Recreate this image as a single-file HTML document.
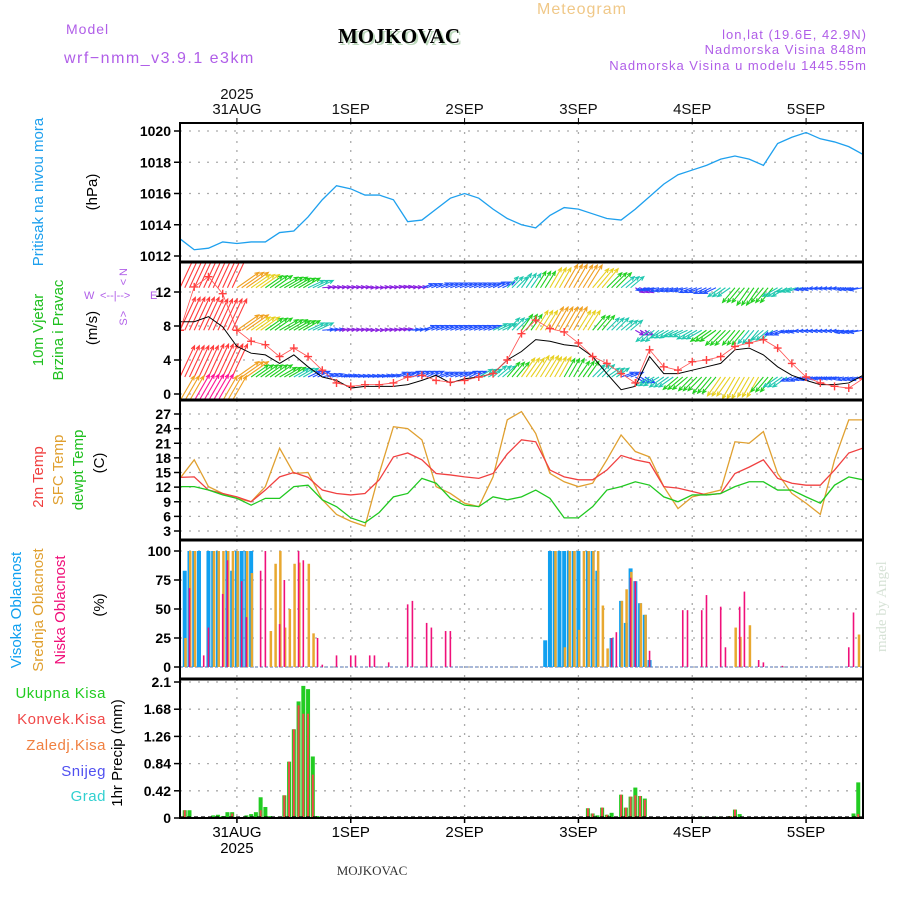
<!DOCTYPE html>
<html><head><meta charset="utf-8"><title>Meteogram MOJKOVAC</title>
<style>
html,body{margin:0;padding:0;background:#fff;}
svg{display:block;font-family:"Liberation Sans",sans-serif;}
</style></head>
<body>
<svg id="chart" xmlns="http://www.w3.org/2000/svg" width="900" height="900" viewBox="0 0 900 900">
<defs>
<clipPath id="clipW"><rect x="180" y="262" width="683" height="138"/></clipPath>
<clipPath id="clipT"><rect x="180" y="400" width="683" height="140"/></clipPath>
</defs>
<text x="582" y="14" font-size="16" fill="#f0c888" text-anchor="middle" letter-spacing="1">Meteogram</text>
<text x="66" y="34" font-size="14" fill="#b05ee8" letter-spacing="1">Model</text>
<text x="64" y="63" font-size="16" fill="#b05ee8" letter-spacing="1.5">wrf−nmm_v3.9.1 e3km</text>
<text x="399" y="43" font-size="21" font-weight="bold" font-family="Liberation Serif,serif" fill="#000" text-anchor="middle" style="text-shadow:2px 2px 0 #bcd8bc">MOJKOVAC</text>
<text x="867" y="39" font-size="13" fill="#b05ee8" text-anchor="end" letter-spacing="1">lon,lat (19.6E, 42.9N)</text>
<text x="867" y="54" font-size="13" fill="#b05ee8" text-anchor="end" letter-spacing="1">Nadmorska Visina 848m</text>
<text x="867" y="70" font-size="13" fill="#b05ee8" text-anchor="end" letter-spacing="1">Nadmorska Visina u modelu 1445.55m</text>
<text x="372" y="875" font-size="13" font-family="Liberation Serif,serif" fill="#333" text-anchor="middle">MOJKOVAC</text>
<text transform="translate(886,652) rotate(-90)" font-size="15" font-family="Liberation Serif,serif" fill="#d6e2d6">made by Angel</text>
<g id="g"></g>
</svg>
<script>
// ---------- data (3-hourly, 49 steps from 30AUG 12Z) ----------
const dayLabels = ["31AUG","1SEP","2SEP","3SEP","4SEP","5SEP"];
const dayHours = [12,36,60,84,108,132];
const pressure = [1013.1,1012.4,1012.5,1012.9,1012.8,1012.9,1012.9,1013.5,1013.6,1014.5,1015.6,1016.5,1016.3,1015.9,1015.9,1015.6,1014.2,1014.3,1015.0,1015.7,1016.0,1015.7,1015.0,1014.4,1014.0,1013.8,1014.6,1015.1,1015.0,1014.7,1014.4,1014.3,1015.0,1015.8,1016.6,1017.2,1017.5,1017.8,1018.2,1018.4,1018.2,1017.8,1019.2,1019.6,1019.9,1019.5,1019.3,1019.0,1018.5];
const windSpeed = [8.5,8.5,9.1,7.9,5.6,4.8,4.6,3.6,4.6,3.2,2.0,1.6,0.7,0.9,0.9,0.9,1.1,1.6,2.2,1.3,1.8,2.0,2.4,4.0,5.0,6.4,6.2,5.8,5.6,4.4,2.4,0.5,0.9,4.4,2.4,2.4,2.8,3.2,3.6,5.2,5.4,4.6,3.2,2.2,1.6,1.1,1.1,1.3,2.2];
const windGust = [7.5,12.6,13.8,11.8,7.5,6.2,5.8,4.4,5.4,4.4,2.8,1.3,0.9,1.1,1.1,1.3,2.0,2.2,1.6,1.4,1.6,2.0,2.4,4.0,7.1,8.7,7.7,7.3,6.0,4.4,3.6,2.4,1.3,5.2,3.2,2.8,3.8,4.0,4.4,5.6,6.0,6.4,5.4,3.6,2.0,1.3,0.9,0.7,1.8];
const rowBase = [12.5,7.5,2.0,-0.8];
const rowSpeed1 = [9,9,8.5,9,6,5,4.5,4.5,4,3.5,1.5,1.5,1.5,1.5,1.5,1.5,1.5,2,2.5,2.5,2.5,2.5,2.5,3,3.5,4,5,6,6,5.5,4.5,3.5,1.5,2.5,2.5,2.5,2.5,2.5,3,4,4.5,4,3.5,3,2,2,2,2,2.5];
const rowSpeed2 = [8.5,8.5,8,8,6,5,4.5,4.5,4,3.5,2,1.5,1.5,1.5,1.5,1.5,2,2.5,2.5,2.5,2.5,2.5,3,3.5,4,5,6,6,5,4,3.5,3,1.5,3.5,3,3,3.5,4,4.5,4,3.5,3,2.5,2,2,2,2,2.5,2.5];
const rowSpeed3 = [8,8,8.5,8.5,6,4.5,4.5,4,3.5,2.5,2,2,2,2,2,2.5,2.5,2.5,2.5,2.5,2.5,3,3.5,4,5,5.5,5,4.5,4,3.5,3,2.5,2,3.5,3.5,4,4,4.5,5,5.5,5,4,3.5,2,2,2,2,2,2];
const rowSpeed4 = [6.5,7,7,6.5,3,3,3,3,3,3,3,3,3,3,3,3,3,3,3,3,3,3,3,3,3,3,3,3,3,3,3,3,3,3,3,3,3,3,3,3,3,3,3,3,3,3,3,3,3];
const rowDir1 = [205,205,205,205,235,235,235,240,240,245,265,265,265,268,265,262,265,250,250,250,250,250,245,225,215,212,210,210,212,220,225,230,300,80,75,75,70,65,55,40,35,40,60,75,80,85,85,80,80];
const rowDir2 = [205,205,205,205,235,235,235,240,240,245,265,265,265,268,265,262,265,250,250,250,250,250,245,225,215,212,210,210,212,220,225,230,300,50,60,65,60,55,45,40,40,50,70,80,85,85,85,80,80];
const rowDir3 = [205,205,205,205,235,235,235,240,240,245,255,260,262,262,260,250,245,245,250,250,245,240,230,220,215,212,210,210,215,225,235,250,300,60,55,50,45,40,35,30,30,40,55,70,75,80,80,75,75];
const rowDir4 = [210,210,210,210,45,45,45,45,45,45,45,45,45,45,45,45,45,45,45,45,45,45,45,45,45,45,45,45,45,45,45,45,45,45,45,45,45,45,45,45,45,45,45,45,45,45,45,45,45];
const temp2m = [14,14.1,11.4,10.7,10.0,9.0,11.4,14.1,15,14,11.4,10.7,10.4,10.7,13.5,18.2,19.0,17.6,14.8,14.5,14.1,13.8,14.8,18.8,21.7,21.3,15.5,14.1,13.5,13.5,15.5,18.5,17.6,17,12.1,11.8,11.1,10.4,10.7,14.8,16.1,17.6,13.8,12.8,12.4,12.4,15.5,19,20];
const tempSfc = [13.8,17.6,12.1,10.7,9.7,9.0,12.1,20,14.8,15,9.4,6.4,5.0,4.0,14.8,24.4,24,21.7,12.1,10.7,8.7,8.0,14.1,25.8,27.5,23,14.8,13.1,12.1,12.8,17.6,22.7,19.3,18.2,12.1,7.6,10.0,10.7,11.4,21.3,21,23.4,14.8,10.7,8.7,6.4,17.6,25.8,25.8];
const tempDew = [12.1,12.1,11.4,10.4,9.7,8.3,9.7,9.7,12.1,12.4,9.4,8.0,5.7,4.7,6.8,10.0,10.7,13.8,12.8,9.7,8.3,8.0,10.0,9.4,10,11.4,9.7,5.7,5.7,8.0,11.4,12.1,13.1,12.4,10.0,9.0,10.4,10.4,10.7,12.1,13.1,13.1,11.4,11.4,10.0,8.7,12.4,14.1,13.5];
// cloud cover (hourly, sparse: hour index + percent)
const highHours = [1,2,3,4,6,7,8,10,11,12,13,14,15,77,78,79,80,81,82,83,84,86,87,88,91,93,94,95,96,97,98,99];
const highVals  = [83,100,100,100,100,100,100,100,83,100,100,100,100,23,100,100,100,100,100,100,100,100,100,83,25,57,38,85,74,55,45,6];
const midHours = [1,2,3,7,8,9,10,11,12,14,15,19,20,21,22,23,24,25,27,28,79,81,82,83,84,85,86,87,88,89,90,93,94,95,97,98,117,118,120,143];
const midVals  = [25,100,100,100,100,100,100,100,100,100,81,31,89,100,34,50,89,90,89,29,100,17,100,100,32,100,100,100,100,53,16,57,67,82,55,45,34,26,36,28];
const lowHours = [2,5,6,9,10,13,14,17,18,21,22,25,26,29,30,33,36,37,40,41,44,48,49,52,53,56,57,91,92,95,96,99,106,107,110,111,114,115,118,119,122,123,127,141,142];
const lowVals  = [68,10,34,63,92,74,43,83,100,37,75,100,92,25,2,10,10,10,10,10,4,54,57,38,34,31,31,25,30,77,74,14,49,49,49,62,52,17,52,65,6,4,1,17,47];
// precipitation (hourly, sparse)
const rainHours = [1,2,7,8,9,10,11,14,15,16,17,18,19,21,22,23,24,25,26,27,28,29,85,86,87,88,89,90,91,92,93,94,95,96,97,98,110,113,116,117,118,142,143];
const rainTotal = [0.12,0.12,0.04,0.05,0.03,0.09,0.09,0.04,0.06,0.09,0.32,0.17,0.03,0.02,0.35,0.87,1.37,1.80,2.04,1.99,0.95,0.03,0.01,0.15,0.07,0.04,0.16,0.05,0.08,0.02,0.36,0.16,0.33,0.47,0.34,0.30,0.02,0.02,0.03,0.13,0.06,0.07,0.55];
const rainConv  = [0.12,0,0,0,0,0,0.07,0,0,0,0.12,0,0,0,0.35,0.87,1.37,1.74,1.61,1.61,0.67,0,0.01,0.15,0.07,0,0.16,0.05,0,0.02,0.36,0.16,0.33,0.35,0.34,0.28,0,0,0.03,0.13,0,0,0.06];
const pTicks = [1012,1014,1016,1018,1020];
const wTicks = [0,4,8,12];
const tTicks = [3,6,9,12,15,18,21,24,27];
const cTicks = [0,25,50,75,100];
const rTicks = ["0","0.42","0.84","1.26","1.68","2.1"];

// ---------- axes ----------
const X0=180, X1=863;
const xOf = h => X0 + h*(X1-X0)/144;
const yP = v => 131 + (1020-v)*15.625;
const yW = s => 394 - s*8.5;
const yT = t => 414 + (27-t)*4.875;
const yC = p => 667 - p*1.16;
const yR = m => 818 - m*64.76;
const NS="http://www.w3.org/2000/svg";
const G=document.getElementById('g');
function mk(tag, attrs, parent){const e=document.createElementNS(NS,tag);for(const k in attrs)e.setAttribute(k,attrs[k]);(parent||G).appendChild(e);return e;}
function txt(s, attrs, parent){const e=mk('text',attrs,parent);e.textContent=s;return e;}

const panels=[[123,262],[262,400],[400,540],[540,679],[679,818]];
const grid=mk('g',{});


function hgrid(y){mk('line',{x1:X0,x2:X1,y1:y,y2:y,stroke:'#aaa','stroke-width':1.3,'stroke-dasharray':'2,7'},grid);}
function vgrid(x,y1,y2){mk('line',{x1:x,x2:x,y1:y1,y2:y2,stroke:'#aaa','stroke-width':1.3,'stroke-dasharray':'2,7'},grid);}
dayHours.forEach(h=>panels.forEach(p=>vgrid(xOf(h),p[0],p[1])));
pTicks.forEach(v=>hgrid(yP(v)));
wTicks.forEach(v=>hgrid(yW(v)));
tTicks.forEach(v=>hgrid(yT(v)));
cTicks.forEach(v=>hgrid(yC(v)));
rTicks.forEach(v=>hgrid(yR(+v)));

function yAxis(ticks, f, name){
  const g=mk('g',{});
  
  
  ticks.forEach(t=>{const y=f(+t);
    mk('line',{x1:174,x2:180,y1:y,y2:y,stroke:'#000','stroke-width':1.5},g);
    const l=txt(String(t),{x:171,y:y+5,'font-size':14,'font-weight':'bold','text-anchor':'end',fill:'#000'},g);
    
    
  });
}
yAxis(pTicks,yP,'pressure-y-axis');
yAxis(wTicks,yW,'wind-y-axis');
yAxis(tTicks,yT,'temp-y-axis');
yAxis(cTicks,yC,'cloud-y-axis');
yAxis(rTicks,yR,'precip-y-axis');

const xg=mk('g',{});


dayHours.forEach((h,i)=>{
  const x=xOf(h);
  mk('line',{x1:x,x2:x,y1:118,y2:123,stroke:'#000'},xg);
  mk('line',{x1:x,x2:x,y1:818,y2:823,stroke:'#000','stroke-width':1.5},xg);
  const a=txt(dayLabels[i],{x:x,y:114,'font-size':15,'text-anchor':'middle',fill:'#111'},xg);
  
  
  const b=txt(dayLabels[i],{x:x,y:837,'font-size':15,'text-anchor':'middle',fill:'#000'},xg);
  
  
});
txt('2025',{x:xOf(12),y:99,'font-size':15,'text-anchor':'middle',fill:'#111'},xg);
txt('2025',{x:xOf(12),y:853,'font-size':15,'text-anchor':'middle',fill:'#000'},xg);

// ---------- pressure ----------
const pl=mk('polyline',{fill:'none',stroke:'#1ea0ee','stroke-width':1.3,points:pressure.map((v,i)=>xOf(3*i)+','+yP(v)).join(' ')});



// ---------- wind ----------
const wg=mk('g',{'clip-path':'url(#clipW)'});


function spdColor(s){
  if(s>=8)return '#ff3a3a'; if(s>=7)return '#ff1493'; if(s>=6)return '#f0a020'; if(s>=5)return '#e8d020';
  if(s>=4)return '#20d020'; if(s>=3)return '#20c8b0'; if(s>=2)return '#2050ff'; return '#8a20e0';
}
const rows=[[rowSpeed1,rowDir1],[rowSpeed2,rowDir2],[rowSpeed3,rowDir3],[rowSpeed4,rowDir4]];
rows.forEach((r,ri)=>{
  const by=yW(rowBase[ri]);
  r[0].forEach((s,i)=>{
    const d=r[1][i]*Math.PI/180, L=s*3.8+4;
    const dx=-Math.sin(d)*L, dy=Math.cos(d)*L;
    const c=spdColor(s);
    const ang=Math.atan2(dy,dx);
    // each 3-hourly value drawn at its hour and held for the following two hourly slots
    for(let k=0;k<3;k++){
      const h=3*i+k; if(h>144)break;
      const x=xOf(h), x2=x+dx, y2=by+dy;
      const a=mk('path',{d:`M${x},${by}L${x2},${y2}M${x2-4.5*Math.cos(ang-0.4)},${y2-4.5*Math.sin(ang-0.4)}L${x2},${y2}L${x2-4.5*Math.cos(ang+0.4)},${y2-4.5*Math.sin(ang+0.4)}`,stroke:c,'stroke-width':1.1,fill:'none'},wg);
      
      
    }
  });
});
const ws=mk('polyline',{fill:'none',stroke:'#000','stroke-width':1,points:windSpeed.map((v,i)=>xOf(3*i)+','+yW(v)).join(' ')},wg);


const gl=mk('polyline',{fill:'none',stroke:'#ff5050','stroke-width':0.8,points:windGust.map((v,i)=>xOf(3*i)+','+yW(v)).join(' ')},wg);


windGust.forEach((v,i)=>{const x=xOf(3*i),y=yW(v);
  const c=mk('path',{d:`M${x-4},${y}H${x+4}M${x},${y-4}V${y+4}`,stroke:'#ff4040','stroke-width':1.4},wg);
  
  
});

// ---------- temperature ----------
const tg=mk('g',{'clip-path':'url(#clipT)'});
[[tempSfc,'#e0a030','sfc-temp-line'],[temp2m,'#f04040','temp-2m-line'],[tempDew,'#20c820','dewpoint-line']].forEach(s=>{
  const l=mk('polyline',{fill:'none',stroke:s[1],'stroke-width':1.3,points:s[0].map((v,i)=>xOf(3*i)+','+yT(v)).join(' ')},tg);
  
  
});

// ---------- cloud ----------
const cg=mk('g',{});


mk('line',{x1:X0,x2:X1,y1:yC(0),y2:yC(0),stroke:'#a8b8d8','stroke-width':2,'stroke-dasharray':'3,2'},cg);
highHours.forEach((h,i)=>{const x=xOf(h);
  const b=mk('rect',{x:x-2,y:yC(highVals[i]),width:4,height:yC(0)-yC(highVals[i]),fill:'#10a0f0'},cg);
  
  });
midHours.forEach((h,i)=>{const x=xOf(h);
  const b=mk('rect',{x:x-0.5,y:yC(midVals[i]),width:2.5,height:yC(0)-yC(midVals[i]),fill:'#e8a830'},cg);
  
  });
lowHours.forEach((h,i)=>{const x=xOf(h);
  const b=mk('rect',{x:x-0.8,y:yC(lowVals[i]),width:1.6,height:yC(0)-yC(lowVals[i]),fill:'#f0107a'},cg);
  
  });

// ---------- precip ----------
const rg=mk('g',{});


rainHours.forEach((h,i)=>{const x=xOf(h);
  const b=mk('rect',{x:x-2,y:yR(rainTotal[i]),width:4,height:818-yR(rainTotal[i]),fill:'#22cc22'},rg);
  
  
  if(rainConv[i]>0){const r=mk('rect',{x:x-1,y:yR(rainConv[i]),width:2,height:818-yR(rainConv[i]),fill:'#f04848'},rg);
    
    }
});
mk('line',{x1:X0,x2:X1,y1:817,y2:817,stroke:'#000','stroke-width':1.2,'stroke-dasharray':'4,3'},rg);

const fg=mk('g',{});


panels.forEach(p=>mk('rect',{x:X0,y:p[0],width:X1-X0,height:p[1]-p[0],fill:'none',stroke:'#000','stroke-width':2},fg));
panels.slice(1).forEach(p=>mk('line',{x1:X0,x2:X1,y1:p[0],y2:p[0],stroke:'#000','stroke-width':3},fg));

// ---------- left labels ----------
function vlabel(s,x,y,c,name,size){const e=txt(s,{transform:`translate(${x},${y}) rotate(-90)`,'font-size':size||15,'text-anchor':'middle',fill:c});
  
  }
vlabel('Pritisak na nivou mora',43,192,'#1ea0ee','pressure-axis-title');
vlabel('(hPa)',97,192,'#000','pressure-unit');
vlabel('10m Vjetar',43,330,'#20c020','wind-axis-title');
vlabel('Brzina i Pravac',63,330,'#20c020','wind-axis-subtitle');
vlabel('(m/s)',97,328,'#000','wind-unit');
vlabel('2m Temp',43,477,'#f04040','temp-2m-title');
vlabel('SFC Temp',63,470,'#e0a030','sfc-temp-title');
vlabel('dewpt Temp',83,470,'#20c020','dewpoint-title');
vlabel('(C)',104,463,'#000','temp-unit');
vlabel('Visoka Oblacnost',21,610,'#10a0f0','high-cloud-title');
vlabel('Srednja Oblacnost',43,610,'#e0a030','mid-cloud-title');
vlabel('Niska Oblacnost',65,610,'#f0107a','low-cloud-title');
vlabel('(%)',104,605,'#000','cloud-unit');
vlabel('1hr Precip (mm)',122,753,'#000','precip-axis-title');
const cp=mk('g',{fill:'#b05ee8','font-size':11});


txt('W',{x:84,y:299},cp);txt('<--|-->',{x:100,y:299},cp);txt('E',{x:150,y:299},cp);
txt('N',{transform:'translate(127,272) rotate(-90)','text-anchor':'middle'},cp);
txt('<',{transform:'translate(127,282) rotate(-90)','text-anchor':'middle'},cp);
txt('>',{transform:'translate(127,314) rotate(-90)','text-anchor':'middle'},cp);
txt('S',{transform:'translate(127,322) rotate(-90)','text-anchor':'middle'},cp);
[['Ukupna Kisa','#22cc22',698],['Konvek.Kisa','#f04848',724],['Zaledj.Kisa','#f08040',750],['Snijeg','#5050f0',776],['Grad','#30d0d0',801]].forEach(l=>{
  const e=txt(l[0],{x:106,y:l[2],'font-size':15,'text-anchor':'end',fill:l[1],'letter-spacing':0.5});
  
  
});
</script>
</body></html>
